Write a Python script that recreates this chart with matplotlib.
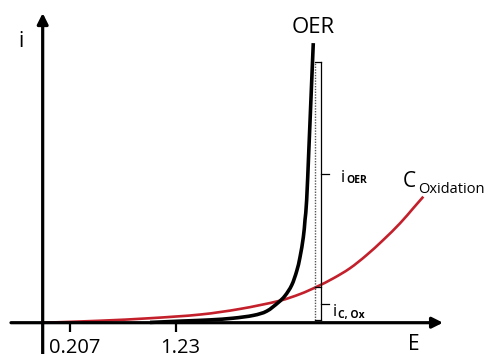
import matplotlib
matplotlib.use("Agg")
import matplotlib.pyplot as plt
from matplotlib.path import Path
from matplotlib.patches import PathPatch
import numpy as np

plt.rcParams['font.family'] = ['Open Sans', 'DejaVu Sans']

# OER polarisation curve (E in V, i arbitrary units)
oer_E = [0.979, 1.297, 1.558, 1.780, 1.976, 2.105, 2.217, 2.282, 2.347,
         2.395, 2.427, 2.459, 2.475, 2.491, 2.512, 2.532, 2.555]
oer_i = [0.01, 0.06, 0.10, 0.16, 0.26, 0.41, 0.72, 0.96, 1.34,
         1.84, 2.34, 3.05, 3.66, 4.37, 6.15, 7.93, 9.96]

# carbon oxidation curve
cox_E = [-0.044, 0.496, 0.979, 1.461, 1.847, 2.217, 2.427, 2.588, 2.748,
         2.909, 3.070, 3.231, 3.392, 3.520, 3.617]
cox_i = [0.0, 0.07, 0.16, 0.29, 0.49, 0.77, 1.02, 1.28, 1.58,
         1.94, 2.41, 2.95, 3.54, 4.08, 4.49]

tick_E = [0.207, 1.23]
tick_labels = ["0.207", "1.23"]

# potential where the two currents are split
E_split = 2.567
i_total = 9.29
i_cox_split = 1.27

red = '#c3202b'


def smooth_path(xs, ys):
    # Catmull-Rom through the points, drawn as cubic Bezier segments
    p = np.column_stack([xs, ys]).astype(float)
    verts = [p[0]]
    codes = [Path.MOVETO]
    n = len(p)
    for k in range(n - 1):
        p0 = p[max(k - 1, 0)]
        p1 = p[k]
        p2 = p[k + 1]
        p3 = p[min(k + 2, n - 1)]
        c1 = p1 + (p2 - p0) / 6.0
        c2 = p2 - (p3 - p1) / 6.0
        verts += [c1, c2, p2]
        codes += [Path.CURVE4] * 3
    return Path(verts, codes)


fig = plt.figure(figsize=(4.89, 3.54), dpi=100)
ax = fig.add_axes([0, 0, 1, 1])
ax.set_xlim(-0.469, 4.251)
ax.set_ylim(-1.115, 11.496)
ax.axis('off')

# axes with arrow heads
y_axis_E = -0.057
ax.annotate('', xy=(3.807, 0), xytext=(-0.363, 0),
            arrowprops=dict(arrowstyle='-|>', lw=2.3, color='black',
                            mutation_scale=16, shrinkA=0, shrinkB=0))
ax.annotate('', xy=(y_axis_E, 11.03), xytext=(y_axis_E, -1.2),
            arrowprops=dict(arrowstyle='-|>', lw=2.3, color='black',
                            mutation_scale=16, shrinkA=0, shrinkB=0))

for e, lab in zip(tick_E, tick_labels):
    ax.plot([e, e], [0, -0.33], color='black', lw=1.6, solid_capstyle='butt')
    ax.annotate(lab, xy=(e, -0.55), xytext=(3, 0), textcoords='offset points',
                ha='center', va='top', fontsize=14.5)

ax.text(-0.262, 10.0, "i", fontsize=15, ha='center', va='center')
ax.text(3.527, -0.78, "E", fontsize=15, ha='center', va='center')

# curves
ax.add_patch(PathPatch(smooth_path(cox_E, cox_i), fill=False,
                       edgecolor=red, lw=1.9, capstyle='butt'))
ax.add_patch(PathPatch(smooth_path(oer_E, oer_i), fill=False,
                       edgecolor='black', lw=2.6, capstyle='butt'))

ax.text(2.553, 10.5, "OER", fontsize=16, ha='center', va='center')
ax.text(3.421, 4.83, "C", fontsize=15, ha='left', va='baseline')
ax.text(3.566, 4.62, "Oxidation", fontsize=10.5, ha='left', va='baseline')

# bracket splitting the total current
E_br = 2.625
E_lab = 2.702
ax.plot([E_split, E_split], [0, i_total], color='#555555', lw=1.0, ls=(0, (1, 1)))
ax.plot([E_br, E_br], [0.08, i_total], color='black', lw=0.9)
for yy in [0.08, i_cox_split, i_total]:
    ax.plot([E_split, E_br], [yy, yy], color='black', lw=0.9)
i_oer_mid = (i_total + i_cox_split) / 2
i_cox_mid = (i_cox_split + 0.08) / 2
for yy in [i_oer_mid, i_cox_mid]:
    ax.plot([E_br, E_lab], [yy, yy], color='black', lw=0.9)

ax.text(2.823, i_oer_mid - 0.25, "i", fontsize=12, ha='left', va='baseline')
ax.text(2.872, i_oer_mid - 0.32, "OER", fontsize=7.5, fontweight='bold',
        ha='left', va='baseline')
ax.text(2.745, i_cox_mid - 0.44, "i", fontsize=12, ha='left', va='baseline')
ax.text(2.795, i_cox_mid - 0.51, "C, Ox", fontsize=7.5, fontweight='bold',
        ha='left', va='baseline')

fig.savefig("out.png", dpi=100)
